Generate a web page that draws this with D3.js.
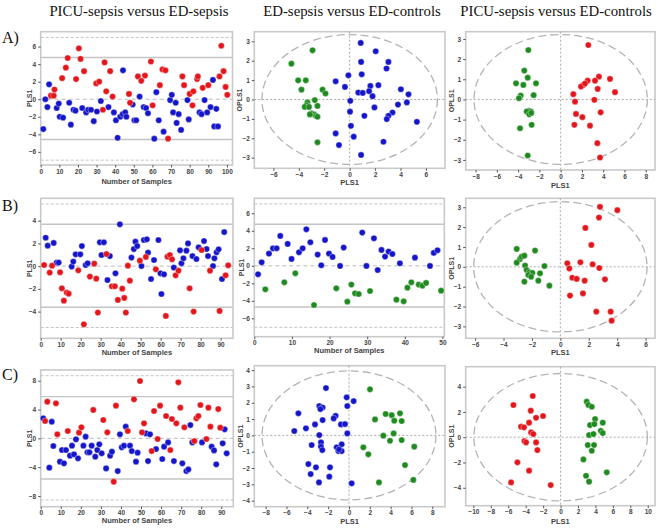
<!DOCTYPE html>
<html><head><meta charset="utf-8">
<script src="https://cdn.jsdelivr.net/npm/d3@7"></script>
<style>body{margin:0;background:#fff}svg{display:block}</style>
</head><body><svg id="c" width="660" height="528"></svg>
<script>
const RED = "#e3161c", BLUE = "#1515c9", GREEN = "#1f8a1f";

const headers = ["PICU-sepsis versus ED-sepsis", "ED-sepsis versus ED-controls", "PICU-sepsis versus ED-controls"];
const rowLabels = ["A)", "B)", "C)"];

// Row A
const a1Red = [[5.5,0.4],[7,0.4],[7.4,1.1],[11.5,2.4],[13.5,3.6],[14.5,4.7],[19,2.3],[20.5,5.8],[21.4,4.6],[23.3,3.2],[29.8,1.8],[31.4,2.0],[33.4,-1.2],[34.3,4.2],[35.2,0.9],[37.3,3.2],[38.6,0.3],[47.4,0.6],[48,-0.4],[52.2,2.6],[54,2.1],[56,2.7],[59.2,4.3],[60.1,-0.7],[64,1.6],[65.4,3.4],[67,3.3],[68.4,-4.5],[76.1,2.6],[77,1.6],[80,0.6],[81.5,-0.7],[82,0.9],[84,2.3],[84.4,2.6],[87,1.3],[90,1.6],[96,2.6],[97,6.1],[98.2,3.2],[99.3,1.4],[100.2,0.5]];
const a1Blue = [[1.4,-3.4],[2.5,0],[3.6,-0.9],[4.5,1.7],[8.6,-1],[9.7,-0.5],[10.2,-2],[12,-2.1],[15.3,-0.4],[16.2,-2.9],[17.6,-1.2],[18.7,-1.3],[22.3,-1],[24.4,-1.5],[25.5,-1.2],[27,-1.2],[28.5,-2.5],[30.2,-1.4],[32.3,-0.2],[36.4,-0.9],[39.3,-1.5],[40.4,-2.4],[41.3,-4.4],[42.7,-2],[44,-1.7],[44.2,3.3],[45.4,-1.5],[46,-2],[49.4,-0.6],[50.3,-2.4],[51.3,-2.4],[53.1,0.3],[55.3,-0.9],[56.6,-1],[57.6,-1.6],[61,-4.5],[62.1,0.8],[63.4,-2.4],[66,-3.7],[69.5,-0.1],[70.4,0.5],[71.1,-1.5],[72.5,-0.4],[73,-2.7],[74.1,-1.7],[75.4,-3.5],[78.8,-0.1],[79.5,-2.3],[85.3,-1.5],[86.4,-1.7],[88,-0.1],[89.4,-1.5],[91.2,-0.9],[92.5,2.2],[93.2,-3.1],[94.3,-1.1],[95.2,-3.1]];
const a2Blue = [[0.87,2.92],[2.05,2.49],[0.9,1.94],[3.05,1.94],[2.9,1.6],[0.95,1.3],[-0.1,1.25],[-1.1,0.94],[-0.37,0.65],[1.63,0.7],[2.26,0.74],[0.68,0.36],[1.03,0.34],[1.53,0.43],[1.8,0.17],[4.03,0.53],[4.63,0.27],[0.05,-0.07],[3.8,-0.26],[4.5,-0.15],[1.95,-0.41],[0.03,-0.63],[1.16,-0.84],[3.37,-0.67],[3.05,-0.84],[2.92,-1.01],[5.29,-1.15],[0.1,-1.36],[-1.1,-1.75],[0.32,-1.92],[2.66,-2.18],[-0.84,-2.35],[0.9,-2.86]];
const a2Green = [[-2.92,2.54],[-4.58,1.85],[-4.05,0.99],[-3.45,0.99],[-3.79,0.51],[-2.13,0.51],[-1.9,0.31],[-2.74,-0.03],[-3.32,-0.15],[-3.39,-0.29],[-3.53,-0.38],[-3.2,-0.38],[-2.53,-0.33],[-3.0,-0.72],[-2.79,-0.77],[-2.66,-0.84],[-2.53,-0.89],[-3.13,-0.77],[-2.53,-2.21]];
const a3Red = [[2.6,2.7],[3.6,1.13],[4.64,1.02],[2.54,0.93],[3.23,0.93],[2.13,0.72],[1.91,0.64],[2.29,0.79],[3.48,0.52],[5.11,0.36],[1.19,0.26],[1.35,-0.11],[3.17,-0.02],[1.44,-0.72],[2.04,-0.88],[3.76,-0.64],[1.29,-1.26],[2.76,-1.3],[3.45,-2.17],[3.7,-2.88]];
const a3Green = [[-3.04,2.45],[-3.42,1.43],[-3.1,1.08],[-4.2,0.8],[-3.51,0.72],[-2.32,0.8],[-3.76,0.19],[-3.92,0.06],[-2.54,0.21],[-2.98,-0.57],[-2.79,-0.6],[-3.2,-0.6],[-2.95,-0.74],[-2.76,-0.67],[-2.73,-1.26],[-3.82,-1.43],[-3.1,-2.78]];

// Row B
const b1Blue = [[2.5,2.5],[3.5,1.8],[6.5,2.04],[8,0.31],[9,0.31],[15.5,-0.04],[16.3,0.4],[17.5,1.04],[19.8,1.04],[20.6,1.77],[22.5,0.1],[23.5,0.25],[29.6,2.1],[30.4,0.98],[31.6,2.1],[33.4,-1.22],[34.6,0.89],[37.4,-0.63],[39.6,3.68],[45.4,0.75],[46.6,1.5],[47.4,2.15],[48.3,1.77],[50.4,0.01],[51.6,2.3],[53.1,2.36],[53.7,1.19],[55.2,-1.13],[56.7,0.54],[58.9,2.3],[59.9,-0.63],[60.4,-2.45],[61.7,-0.72],[66.6,-0.13],[69.7,1.39],[70.4,0.25],[71.4,0.69],[72.9,1.36],[73.7,2.0],[75.9,0.89],[77.9,0.63],[79,1.66],[81.7,2.21],[83,1.51],[83.7,0.89],[86.2,0.01],[86.9,0.69],[88,1.22],[89,1.48],[90.7,-1.13],[91.8,3.0]];
const b1Red = [[1.7,0.1],[4.5,-0.57],[5.7,0.04],[9.7,-0.54],[10.6,-1.95],[11.6,-3.04],[13,-2.33],[14,-2.42],[18.8,-0.37],[21.6,-5.12],[24.6,-0.92],[26.8,0.22],[27.8,-1.1],[28.6,-4.09],[32.9,1.07],[35.6,-1.77],[37.1,-1.77],[38.6,-2.97],[40.8,-1.98],[41.8,-2.8],[42.6,-4.09],[43.6,0.04],[44.6,-1.28],[49.6,0.48],[52.6,0.81],[57.6,-0.28],[62.6,-4.38],[63.4,0.83],[64.6,0.98],[65.7,0.6],[67.5,-0.81],[68.9,-0.4],[74.5,-1.95],[76.5,-4.0],[80.5,1.42],[84.7,-0.4],[89.5,-3.94],[92.5,-0.81],[93.8,0.07]];
const b2Blue = [[1,-0.97],[1.95,0.4],[3.9,1.39],[4.96,2.0],[5.94,2.0],[6.9,3.41],[8.87,2.5],[9.9,0.78],[11.88,1.54],[12.85,2.0],[13.83,4.17],[14.9,2.69],[16.84,1.28],[17.8,0.06],[18.8,2.95],[19.86,1.39],[20.8,1.01],[22.8,-0.02],[23.76,2.08],[28.7,3.79],[29.8,-0.02],[31.8,3.14],[32.8,-0.48],[33.8,1.81],[34.75,1.05],[35.7,1.62],[36.7,1.35],[38.7,0.29],[42.7,0.93],[46.7,-0.02],[47.7,1.47],[48.7,1.77]];
const b2Green = [[2.93,-2.69],[7.98,-1.89],[10.9,-0.86],[15.87,-4.48],[21.8,-2.57],[24.73,-4.1],[25.8,-2.15],[26.77,-3.14],[27.75,-3.22],[30.76,-2.88],[37.77,-3.87],[39.7,-4.06],[40.7,-2.5],[41.75,-1.89],[43.7,-2.15],[44.7,-2.27],[45.66,-1.96],[49.65,-2.84]];
const b3Red = [[2.79,3.02],[4.01,2.85],[2.72,2.48],[1.76,1.96],[2.18,1.1],[0.49,0.18],[0.63,-0.08],[1.41,0.23],[2.27,0.13],[2.74,-0.06],[0.84,-0.55],[1.15,-0.61],[1.71,-0.7],[3.14,-0.63],[0.68,-1.45],[1.59,-1.34],[2.53,-2.26],[3.54,-2.26],[3.61,-2.71]];
const b3Green = [[-3.07,0.9],[-1.78,0.82],[-2.84,0.39],[-3.07,0.21],[-2.72,0.51],[-2.53,0.56],[-2.48,0.06],[-1.12,0.04],[-2.37,-0.16],[-2.18,-0.28],[-1.97,-0.31],[-2.25,-0.41],[-1.43,-0.33],[-2.53,-0.75],[-1.55,-0.7],[-0.77,-0.95],[-2.06,-0.5]];

// Row C
const c1Blue = [[1.3,2.78],[4.3,-4.07],[5.5,2.31],[6.3,-1.06],[9.6,-3.24],[10.6,-1.62],[11.6,-3.47],[12.6,-1.62],[14.6,-2.41],[15.6,-1.02],[16.6,-2.22],[17.6,-0.14],[18.6,-2.78],[21.3,-1.02],[22.4,0.23],[23.3,-1.94],[24.3,-1.94],[25.4,-1.02],[27.2,-2.55],[28.2,-1.62],[29.2,-0.83],[30.4,-2.08],[32.6,-4.17],[34.6,-2.41],[35.5,-1.85],[38.4,-4.54],[39.5,0.56],[40.4,-1.25],[41.5,-1.02],[42.4,1.62],[44.5,-1.02],[45.4,-1.76],[47.5,-3.24],[48.3,-1.99],[52.5,0.69],[53.5,-3.15],[54.5,0.56],[57.5,-1.48],[60.6,-2.87],[61.5,-1.16],[63.5,-0.56],[66.4,-3.15],[70.6,-3.47],[72.6,-4.54],[73.6,-4.31],[74.6,1.85],[75.6,-0.56],[80.4,-0.56],[85.2,-1.16],[86.4,-1.67],[87.5,-3.61],[90.7,-0.69],[91.7,1.25],[92.7,-2.08]];
const c1Red = [[2.2,2.41],[3.3,5.09],[7.6,4.86],[8.3,0.56],[13.5,1.02],[19.1,0.79],[20.3,1.53],[26.2,3.94],[31.2,2.55],[33.2,0.83],[36.4,-6.02],[37.5,4.54],[43.4,1.02],[46.5,5.42],[49.5,7.96],[50.5,0.83],[51.5,2.08],[55.3,-1.76],[56.5,3.8],[58.3,-0.09],[59.5,4.54],[62.5,3.1],[64.6,-1.62],[65.4,2.69],[67.6,2.08],[68.6,7.78],[69.6,4.26],[71.6,1.53],[76.6,-0.37],[77.6,2.78],[78.6,3.1],[79.6,4.63],[82.6,-0.09],[83.6,4.26],[84.6,1.62],[88.5,4.07],[89.5,1.48]];
const c2Blue = [[-2.21,2.9],[-0.22,2.33],[0.45,2.1],[-0.16,1.8],[-2.85,1.8],[-2.53,1.71],[-2.75,1.61],[-4.86,1.35],[-1.28,1.2],[-1.47,1.04],[-2.53,0.94],[-3.26,0.67],[-0.77,0.67],[-0.38,0.69],[-4.13,0.43],[-5.25,0.27],[-0.16,0.12],[-2.85,0.02],[-2.69,-0.43],[-3.58,-0.59],[-2.69,-0.69],[-0.7,-0.55],[-1.18,-0.73],[-2.56,-0.9],[-1.02,-0.96],[-0.7,-0.96],[-0.96,-0.86],[-3.9,-1.76],[-3.17,-1.96],[-1.82,-1.96],[-3.68,-2.37],[-1.89,-2.53],[-2.88,-2.88],[0.26,-2.94]];
const c2Green = [[2.02,2.82],[3.52,1.31],[2.5,0.98],[4.1,1.24],[4.9,1.35],[4.35,0.9],[5.06,0.88],[3.3,-0.02],[4.29,0.12],[3.94,-0.33],[5.06,-0.29],[6.27,-0.69],[1.38,-0.73],[1.86,-1.16],[5.38,-1.82],[2.88,-2.88],[6.18,-2.73]];
const c3Red = [[-3.19,3.26],[-5.41,2.55],[-3.42,2.1],[-2.01,1.68],[-2.81,1.54],[-3.61,1.15],[-4.53,0.83],[-4.19,0.78],[-3.38,0.38],[-3.12,0.25],[-4.15,-0.3],[-3.96,-0.41],[-2.81,-0.41],[-2.66,-1.02],[-4.95,-1.99],[-3.61,-2.65],[-5.68,-3.58],[-1.13,-3.79]];
const c3Green = [[3.0,2.81],[3.19,2.55],[3.58,2.41],[3.96,1.44],[3.38,0.96],[3.88,1.04],[4.84,1.15],[4.61,0.51],[4.84,0.33],[3.27,0.17],[3.77,0.25],[3.12,-0.62],[3.84,-0.62],[3.58,-1.07],[2.62,-1.76],[2.92,-3.05],[3.27,-3.52],[5.3,-2.78]];

// Tick values
const a1XTicks = [0,10,20,30,40,50,60,70,80,90,100], a1YTicks = [-6,-4,-2,0,2,4,6];
const a2XTicks = [-6,-4,-2,0,2,4,6], a2YTicks = [-3,-2,-1,0,1,2,3];
const a3XTicks = [-8,-6,-4,-2,0,2,4,6,8], a3YTicks = [-3,-2,-1,0,1,2,3];
const b1XTicks = [0,10,20,30,40,50,60,70,80,90], b1YTicks = [-4,-2,0,2,4];
const b2XTicks = [0,10,20,30,40,50], b2YTicks = [-6,-4,-2,0,2,4,6];
const b3XTicks = [-6,-4,-2,0,2,4,6], b3YTicks = [-3,-2,-1,0,1,2,3];
const c1XTicks = [0,10,20,30,40,50,60,70,80,90], c1YTicks = [-8,-4,0,4,8];
const c2XTicks = [-8,-6,-4,-2,0,2,4,6,8], c2YTicks = [-4,-3,-2,-1,0,1,2,3,4];
const c3XTicks = [-10,-8,-6,-4,-2,0,2,4,6,8,10], c3YTicks = [-4,-2,0,2,4];

const panels = [
 {box:[40.7,31.7,232.5,165], type:"index", xd:[0,103], yd:[-7.5,7.7], xt:a1XTicks, yt:a1YTicks, solid:[4.75,-4.6], dashed:[7.05,-6.95], xlab:"Number of Samples", ylab:"PLS1", xlDy:18.5, ylDx:-11, s:[[a1Blue,BLUE],[a1Red,RED]]},
 {box:[254.3,31.7,445,168.3], type:"score", xd:[-7.5,7.5], yd:[-3.55,3.5], xt:a2XTicks, yt:a2YTicks, ell:[6.9,3.35], xlab:"PLS1", ylab:"OPLS1", xlDy:16.5, ylDx:-15, s:[[a2Blue,BLUE],[a2Green,GREEN]]},
 {box:[465.7,31.7,655,170], type:"score", xd:[-8.93,8.87], yd:[-3.5,3.36], xt:a3XTicks, yt:a3YTicks, ell:[8.15,3.22], xlab:"PLS1", ylab:"OPLS1", xlDy:18, ylDx:-14, s:[[a3Red,RED],[a3Green,GREEN]]},
 {box:[40.7,198.3,233,338.3], type:"index", xd:[0,96.2], yd:[-6.35,5.97], xt:b1XTicks, yt:b1YTicks, solid:[3.68,-3.62], dashed:[5.47,-5.4], xlab:"Number of Samples", ylab:"PLS1", xlDy:16.5, ylDx:-11, s:[[b1Blue,BLUE],[b1Red,RED]]},
 {box:[254.3,198.3,444.3,336.7], type:"index", xd:[0,50.5], yd:[-8.1,7.71], xt:b2XTicks, yt:b2YTicks, solid:[4.74,-4.7], dashed:[7.07,-7.03], xlab:"Number of Samples", ylab:"PLS1", xlDy:16.5, ylDx:-13, s:[[b2Blue,BLUE],[b2Green,GREEN]]},
 {box:[465.7,198.3,655,338.3], type:"score", xd:[-6.66,6.66], yd:[-3.6,3.45], xt:b3XTicks, yt:b3YTicks, ell:[6.1,3.28], xlab:"PLS1", ylab:"OPLS1", xlDy:17, ylDx:-14, s:[[b3Red,RED],[b3Green,GREEN]]},
 {box:[40.7,370,233.3,506.7], type:"index", xd:[0,96], yd:[-9.49,9.49], xt:c1XTicks, yt:c1YTicks, solid:[5.79,-5.65], dashed:[8.7,-8.56], xlab:"Number of Samples", ylab:"PLS1", xlDy:16.5, ylDx:-11, s:[[c1Blue,BLUE],[c1Red,RED]]},
 {box:[254.3,365.7,445,506.7], type:"score", xd:[-9.09,9.22], yd:[-4.37,4.27], xt:c2XTicks, yt:c2YTicks, ell:[8.35,3.95], xlab:"PLS1", ylab:"OPLS1", xlDy:17, ylDx:-14, s:[[c2Blue,BLUE],[c2Green,GREEN]]},
 {box:[465.7,366.7,655,505.7], type:"score", xd:[-10.88,10.83], yd:[-5.42,5.58], xt:c3XTicks, yt:c3YTicks, ell:[9.95,5.04], xlab:"PLS1", ylab:"OPLS1", xlDy:18, ylDx:-14, s:[[c3Red,RED],[c3Green,GREEN]]}
];

const svg = d3.select("#c");
const headerX = [139, 352, 556];
svg.selectAll("text.hdr").data(headers).join("text").attr("class","hdr")
  .attr("x",(d,i)=>headerX[i]).attr("y",16).attr("text-anchor","middle")
  .attr("font-family","'Liberation Serif', 'Times New Roman', serif").attr("font-size",14.8)
  .attr("fill","#111").text(d=>d);
const rowY = [43, 211, 380];
svg.selectAll("text.row").data(rowLabels).join("text").attr("class","row")
  .attr("x",2).attr("y",(d,i)=>rowY[i])
  .attr("font-family","'Liberation Serif', 'Times New Roman', serif").attr("font-size",16)
  .attr("fill","#111").text(d=>d);

panels.forEach(p => {
  const [x0,y0,x1,y1] = p.box;
  const x = d3.scaleLinear().domain(p.xd).range([x0,x1]);
  const y = d3.scaleLinear().domain(p.yd).range([y1,y0]);
  const g = svg.append("g");
  g.append("rect").attr("x",x0).attr("y",y0).attr("width",x1-x0).attr("height",y1-y0)
    .attr("fill","#fff").attr("stroke","#c9c9c9").attr("stroke-width",1.6);
  if (p.type === "index") {
    g.selectAll("line.dl").data(p.dashed).join("line").attr("x1",x0).attr("x2",x1)
      .attr("y1",d=>y(d)).attr("y2",d=>y(d)).attr("stroke","#c4c4c4").attr("stroke-dasharray","3,2").attr("stroke-width",1);
    g.selectAll("line.sl").data(p.solid).join("line").attr("x1",x0).attr("x2",x1)
      .attr("y1",d=>y(d)).attr("y2",d=>y(d)).attr("stroke","#c4c4c4").attr("stroke-width",1.4);
    g.append("line").attr("x1",x0).attr("x2",x1).attr("y1",y(0)).attr("y2",y(0))
      .attr("stroke","#bbb").attr("stroke-dasharray","4,3").attr("stroke-width",1);
  } else {
    g.append("line").attr("x1",x0).attr("x2",x1).attr("y1",y(0)).attr("y2",y(0))
      .attr("stroke","#aaa").attr("stroke-dasharray","2,2").attr("stroke-width",1);
    g.append("line").attr("x1",x(0)).attr("x2",x(0)).attr("y1",y0).attr("y2",y1)
      .attr("stroke","#aaa").attr("stroke-dasharray","2,2").attr("stroke-width",1);
    g.append("ellipse").attr("cx",x(0)).attr("cy",y(0))
      .attr("rx",x(p.ell[0])-x(0)).attr("ry",y(0)-y(p.ell[1]))
      .attr("fill","none").attr("stroke","#b4b4b4").attr("stroke-width",1.3).attr("stroke-dasharray","8,4");
  }
  p.s.forEach(([data,col]) => {
    g.selectAll(null).data(data).join("circle")
      .attr("cx",d=>x(d[0])).attr("cy",d=>y(d[1])).attr("r",3.1)
      .attr("fill",col).attr("stroke","#fff").attr("stroke-opacity",0.6).attr("stroke-width",0.6);
  });
  const ax = g.append("g").attr("transform",`translate(0,${y1})`)
    .call(d3.axisBottom(x).tickValues(p.xt).tickSize(2.5).tickPadding(1.5).tickFormat(d3.format("d")));
  const ay = g.append("g").attr("transform",`translate(${x0},0)`)
    .call(d3.axisLeft(y).tickValues(p.yt).tickSize(2.5).tickPadding(2).tickFormat(d3.format("d")));
  [ax,ay].forEach(a => {
    a.select(".domain").remove();
    a.selectAll(".tick line").attr("stroke","#555");
    a.selectAll(".tick text").attr("font-family","'Liberation Sans', Arial, sans-serif")
      .attr("font-size",6.5).attr("font-weight","bold").attr("fill","#444");
  });
  g.append("text").attr("x",(x0+x1)/2).attr("y",y1+p.xlDy).attr("text-anchor","middle")
    .attr("font-family","'Liberation Sans', Arial, sans-serif").attr("font-size",7.5)
    .attr("font-weight","bold").attr("fill","#444").text(p.xlab);
  g.append("text").attr("transform",`translate(${x0+p.ylDx},${(y0+y1)/2}) rotate(-90)`)
    .attr("text-anchor","middle").attr("dy","0.35em")
    .attr("font-family","'Liberation Sans', Arial, sans-serif").attr("font-size",7)
    .attr("font-weight","bold").attr("fill","#444").text(p.ylab);
});
</script></body></html>
